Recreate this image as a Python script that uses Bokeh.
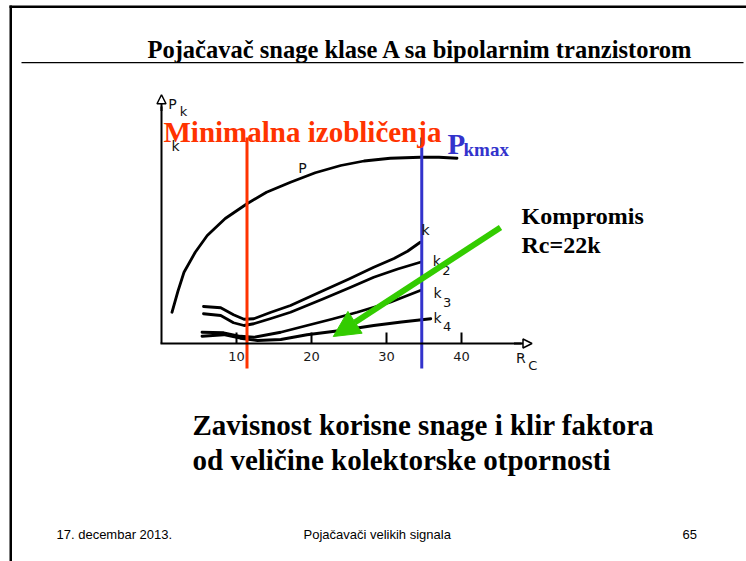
from bokeh.plotting import figure
from bokeh.models import Range1d, LinearAxis, FixedTicker, Label, BoxAnnotation, Arrow, NormalHead
from bokeh.embed import file_html
from bokeh.resources import INLINE

# ---- data (Rc in kOhm, relative units on y) ----
x_ticks = [10, 20, 30, 40]

rc_p = [1.4, 2.2, 3.0, 4.5, 6.1, 8.5, 11.4, 14.0, 17.2, 20.5, 23.9, 27.0, 30.5, 34.5, 37.0, 39.4]
p_vals = [1.25, 2.1, 2.85, 3.65, 4.32, 5.0, 5.59, 6.05, 6.45, 6.83, 7.12, 7.3, 7.41, 7.45, 7.45, 7.41]

rc_k1 = [5.6, 7.9, 9.6, 11.0, 12.3, 14.6, 17.2, 21.6, 25.0, 28.3, 31.0, 32.8, 34.5]
k1_vals = [1.48, 1.43, 1.15, 0.97, 0.99, 1.25, 1.52, 2.12, 2.58, 3.05, 3.4, 3.69, 4.05]

rc_k2 = [5.6, 7.9, 9.6, 11.0, 12.3, 14.6, 17.2, 21.6, 25.0, 28.3, 31.5, 34.5]
k2_vals = [1.19, 1.12, 0.83, 0.72, 0.79, 1.0, 1.25, 1.79, 2.22, 2.65, 2.98, 3.25]

rc_k3 = [5.4, 8.3, 10.5, 12.3, 15.9, 19.4, 22.8, 26.1, 30.5, 34.5]
k3_vals = [0.45, 0.43, 0.29, 0.25, 0.45, 0.72, 0.98, 1.25, 1.65, 2.12]

rc_k4 = [5.4, 8.3, 10.5, 12.8, 15.9, 19.4, 23.9, 28.3, 32.0, 35.9]
k4_vals = [0.29, 0.35, 0.21, 0.12, 0.16, 0.35, 0.52, 0.72, 0.86, 0.99]

rc_min_dist = 11.4    # "Minimalna izobličenja"
rc_pkmax = 34.7       # "Pkmax"
rc_compromise = 22.9  # "Kompromis Rc=22k"

title_text = "Pojačavač snage klase A sa bipolarnim tranzistorom"
caption_lines = ["Zavisnost korisne snage i klir faktora", "od veličine kolektorske otpornosti"]
footer_left = "17. decembar 2013."
footer_mid = "Pojačavači velikih signala"
footer_right = "65"

# ---- figure: frame covers the whole slide ----
W, H = 746, 561
p = figure(width=W, height=H, output_backend="svg", toolbar_location=None,
           x_range=Range1d((0 - 161) / 7.5, (W - 161) / 7.5),
           y_range=Range1d((343 - H) / 25, 343 / 25),
           x_axis_location=None, y_axis_location=None, min_border=0)
p.grid.visible = False
p.outline_line_color = None
p.background_fill_color = "white"
p.border_fill_color = "white"

# chart axes
xaxis = LinearAxis(fixed_location=0, ticker=FixedTicker(ticks=x_ticks), bounds=(-0.2, 48.0),
                   major_tick_in=11, major_tick_out=0, minor_tick_line_color=None,
                   axis_line_width=2, major_tick_line_width=2, major_label_standoff=8,
                   major_label_text_font="DejaVu Sans", major_label_text_font_size="13px",
                   major_label_text_color="#1a1a1a")
p.add_layout(xaxis, "below")
yaxis = LinearAxis(fixed_location=0, ticker=FixedTicker(ticks=[]), bounds=(0, 9.5),
                   axis_line_width=2, major_tick_line_color=None, minor_tick_line_color=None,
                   major_label_text_font_size="0px")
p.add_layout(yaxis, "left")
p.add_layout(Arrow(x_start=47.0, y_start=0, x_end=49.4, y_end=0, line_width=2,
                   end=NormalHead(size=9, fill_color="white", line_color="black", line_width=1.5)))
p.add_layout(Arrow(x_start=0, y_start=9.3, x_end=0, y_end=9.95, line_width=2,
                   end=NormalHead(size=9, fill_color="white", line_color="black", line_width=1.5)))

# curves
for xs, ys in [(rc_p, p_vals), (rc_k1, k1_vals), (rc_k2, k2_vals), (rc_k3, k3_vals), (rc_k4, k4_vals)]:
    p.line(xs, ys, line_width=2.8, line_color="black", line_join="round", line_cap="round")

# chart labels
def clabel(x, y, t, size="14px"):
    p.add_layout(Label(x=x, y=y, text=t, text_font="DejaVu Sans", text_font_size=size,
                       text_color="#111111", text_align="center", text_baseline="middle"))

clabel(18.8, 7.04, "P")
clabel(1.47, 9.6, "P")
clabel(2.93, 9.28, "k", "13px")
clabel(1.87, 7.92, "k")
clabel(47.9, -0.56, "R")
clabel(49.5, -0.88, "C", "13px")
clabel(35.2, 4.56, "k")
clabel(36.7, 3.32, "k")
clabel(38.0, 2.92, "2", "13px")
clabel(36.8, 2.04, "k")
clabel(38.1, 1.64, "3", "13px")
clabel(36.8, 1.04, "k")
clabel(38.1, 0.68, "4", "13px")

# vertical marker lines
p.segment(x0=[rc_min_dist], y0=[8.24], x1=[rc_min_dist], y1=[-1.0], line_color="#FF3300", line_width=3)
p.segment(x0=[rc_pkmax], y0=[8.24], x1=[rc_pkmax], y1=[-1.0], line_color="#3333CC", line_width=3)

# green compromise arrow
green = "#33CC00"
p.add_layout(Arrow(x_start=45.2, y_start=4.64, x_end=rc_compromise, y_end=0.28,
                   line_color=green, line_width=6,
                   end=NormalHead(size=26, fill_color=green, line_color=green, line_width=1)))

# ---- slide texts (screen units relative to canvas: sx = X, sy = H-Y) ----
def slabel(X, Y, t, font="Liberation Serif", size="24px", style="bold", color="black"):
    p.add_layout(Label(x=X, y=H - Y, x_units="screen", y_units="screen", text=t,
                       text_font=font, text_font_size=size, text_font_style=style,
                       text_color=color, text_baseline="alphabetic"))

slabel(147, 49, title_text, size="24.5px")
slabel(163, 131, "Minimalna izobličenja", size="29px", color="#FF3300")
slabel(447, 143, "P", size="29px", color="#3333CC")
slabel(463, 149, "kmax", size="19px", color="#3333CC")
slabel(521, 215, "Kompromis", size="24px")
slabel(521, 244, "Rc=22k", size="24px")
slabel(192, 424, caption_lines[0], size="29px")
slabel(192, 459, caption_lines[1], size="29px")
slabel(56, 534, footer_left, font="Liberation Sans", size="13px", style="normal")
slabel(303, 534, footer_mid, font="Liberation Sans", size="13px", style="normal")
slabel(682, 534, footer_right, font="Liberation Sans", size="13px", style="normal")

# slide frame lines
def sbox(x0, x1, y0, y1):
    p.add_layout(BoxAnnotation(left=x0, right=x1, top=H - y0, bottom=H - y1,
                               left_units="screen", right_units="screen",
                               top_units="screen", bottom_units="screen",
                               fill_color="black", fill_alpha=1, line_color=None, level="overlay"))

sbox(9, 746, 5, 7.5)      # top border
sbox(9, 11.5, 5, 561)     # left border
sbox(21, 743, 61.5, 62.7)  # title underline

open("out.html", "w").write(file_html(p, INLINE))
